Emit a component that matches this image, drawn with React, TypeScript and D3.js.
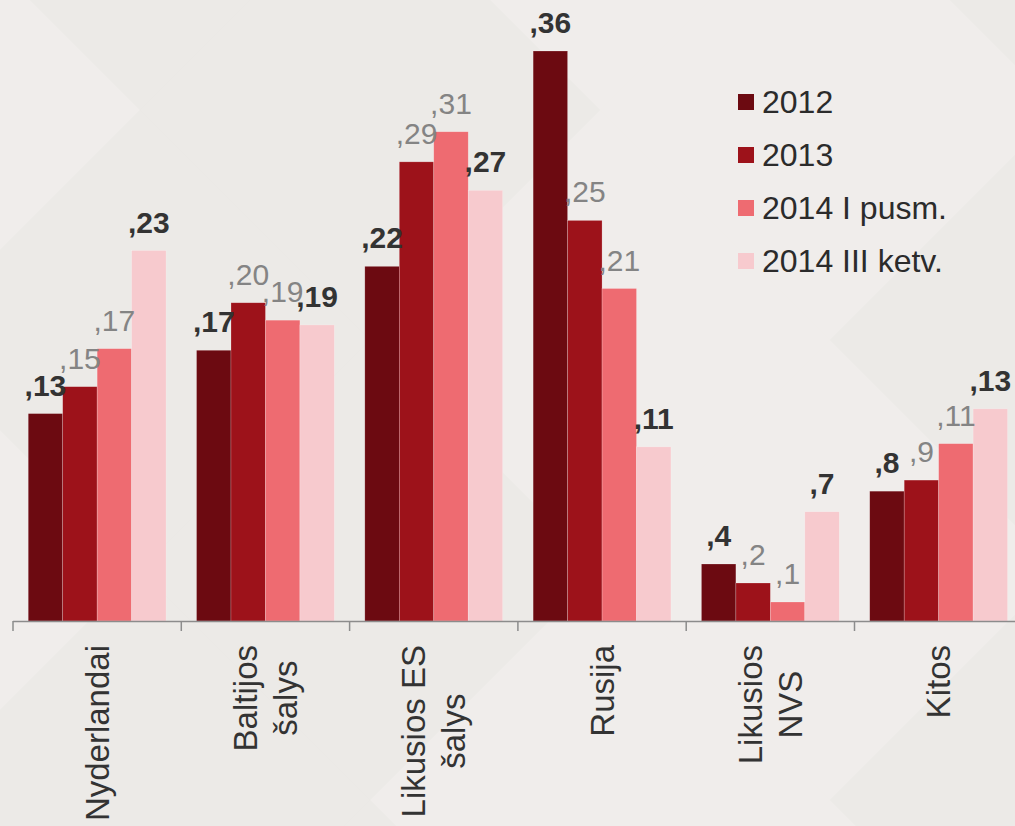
import * as d3 from 'd3';
import React, { useEffect, useRef } from 'react';

const W = 1015;
const H = 826;
const margin = {left: 13, top: 51, bottom: 205};

const categories = ['Nyderlandai', 'Baltijos\nšalys', 'Likusios ES\nšalys', 'Rusija', 'Likusios\nNVS', 'Kitos'];
const seriesNames = ['2012', '2013', '2014 I pusm.', '2014 III ketv.'];
const seriesColors = ['#6c0a11', '#9d121a', '#ee6b71', '#f7cace'];
const values2012 = [13.1, 17.1, 22.4, 36, 3.6, 8.2];
const values2013 = [14.8, 20.1, 29, 25.3, 2.4, 8.9];
const values2014I = [17.2, 19, 30.9, 21, 1.2, 11.2];
const values2014III = [23.4, 18.7, 27.2, 11, 6.9, 13.4];
const seriesValues = [values2012, values2013, values2014I, values2014III];
const boldSeries = [true, false, false, true];
const yMax = 36;

const font = '"Liberation Sans", Arial, sans-serif';

function App() {
  const ref = useRef<SVGSVGElement>(null);

  useEffect(() => {
    const svg = d3.select(ref.current);
    svg.selectAll('*').remove();

    const baseline = H - margin.bottom;
    const step = 168.3;
    const x0 = d3.scaleBand<string>()
      .domain(categories)
      .range([margin.left, margin.left + step * categories.length])
      .paddingInner(0.181)
      .paddingOuter(0.0905);
    const x1 = d3.scaleBand<number>()
      .domain(d3.range(seriesNames.length))
      .range([0, x0.bandwidth()]);
    const y = d3.scaleLinear().domain([0, yMax]).range([baseline, margin.top]);

    // background: very soft diamond lattice
    svg.append('rect').attr('width', W).attr('height', H).attr('fill', '#eeebe8');
    const bg = svg.append('g');
    const r = 230;
    for (let row = -1; row <= 4; row++) {
      for (let col = -1; col <= 5; col++) {
        const cx = col * 2 * r + (row % 2 ? r : 0) - 90;
        const cy = row * r + 110;
        const light = (row + col) % 2 === 0;
        bg.append('polygon')
          .attr('points', `${cx},${cy - r} ${cx + r},${cy} ${cx},${cy + r} ${cx - r},${cy}`)
          .attr('fill', light ? '#ffffff' : '#e6e2de')
          .attr('opacity', light ? 0.14 : 0.1);
      }
    }

    const g = svg.append('g');

    // bars
    categories.forEach((cat, ci) => {
      const cg = g.append('g').attr('transform', `translate(${x0(cat)},0)`);
      seriesValues.forEach((vals, si) => {
        const v = vals[ci];
        cg.append('rect')
          .attr('x', x1(si))
          .attr('y', y(v))
          .attr('width', x1.bandwidth())
          .attr('height', baseline - y(v))
          .attr('fill', seriesColors[si])
          .attr('stroke', 'rgba(255,255,255,0.35)')
          .attr('stroke-width', 0.6);
      });
    });

    // value labels
    categories.forEach((cat, ci) => {
      seriesValues.forEach((vals, si) => {
        const v = vals[ci];
        g.append('text')
          .attr('x', (x0(cat) as number) + (x1(si) as number) + x1.bandwidth() / 2)
          .attr('y', y(v) - 18)
          .attr('text-anchor', 'middle')
          .attr('font-family', font)
          .attr('font-size', 30)
          .attr('font-weight', boldSeries[si] ? 'bold' : 'normal')
          .attr('fill', boldSeries[si] ? '#333333' : '#848484')
          .text(',' + Math.round(v));
      });
    });

    // axis
    const axis = g.append('g').attr('stroke', '#8c8c8c').attr('stroke-width', 1.5);
    axis.append('line')
      .attr('x1', margin.left).attr('x2', W)
      .attr('y1', baseline + 0.5).attr('y2', baseline + 0.5);
    const half = (x0.step() - x0.bandwidth()) / 2;
    const bounds = categories.map(c => (x0(c) as number) - half);
    bounds.push((x0(categories[categories.length - 1]) as number) + x0.bandwidth() + half);
    bounds.forEach(b => {
      axis.append('line')
        .attr('x1', b).attr('x2', b)
        .attr('y1', baseline).attr('y2', baseline + 10);
    });

    // category labels, rotated
    categories.forEach(cat => {
      const lines = cat.split('\n');
      const cx = (x0(cat) as number) + x0.bandwidth() / 2;
      const lg = g.append('g').attr('transform', `translate(${cx},${baseline + 24}) rotate(-90)`);
      const texts = lines.map((ln, i) => lg.append('text')
        .attr('font-family', font)
        .attr('font-size', 33)
        .attr('fill', '#333333')
        .attr('text-anchor', 'middle')
        .attr('y', (i - (lines.length - 1) / 2) * 40 + 11.5)
        .text(ln));
      const maxW = d3.max(texts, t => (t.node() as SVGTextElement).getComputedTextLength()) || 0;
      texts.forEach(t => t.attr('x', -maxW / 2));
    });

    // legend
    const legend = svg.append('g').attr('transform', 'translate(738,102)');
    seriesNames.forEach((name, i) => {
      const row = legend.append('g').attr('transform', `translate(0,${i * 53})`);
      row.append('rect')
        .attr('x', 0).attr('y', -8)
        .attr('width', 16).attr('height', 16)
        .attr('fill', seriesColors[i]);
      row.append('text')
        .attr('x', 24).attr('y', 11)
        .attr('font-family', font)
        .attr('font-size', 32)
        .attr('fill', '#2b2b2b')
        .text(name);
    });
  }, []);

  return (
    <svg ref={ref} width={W} height={H}
      style={{position: 'absolute', left: 0, top: 0, display: 'block'}} />
  );
}

export default App;
